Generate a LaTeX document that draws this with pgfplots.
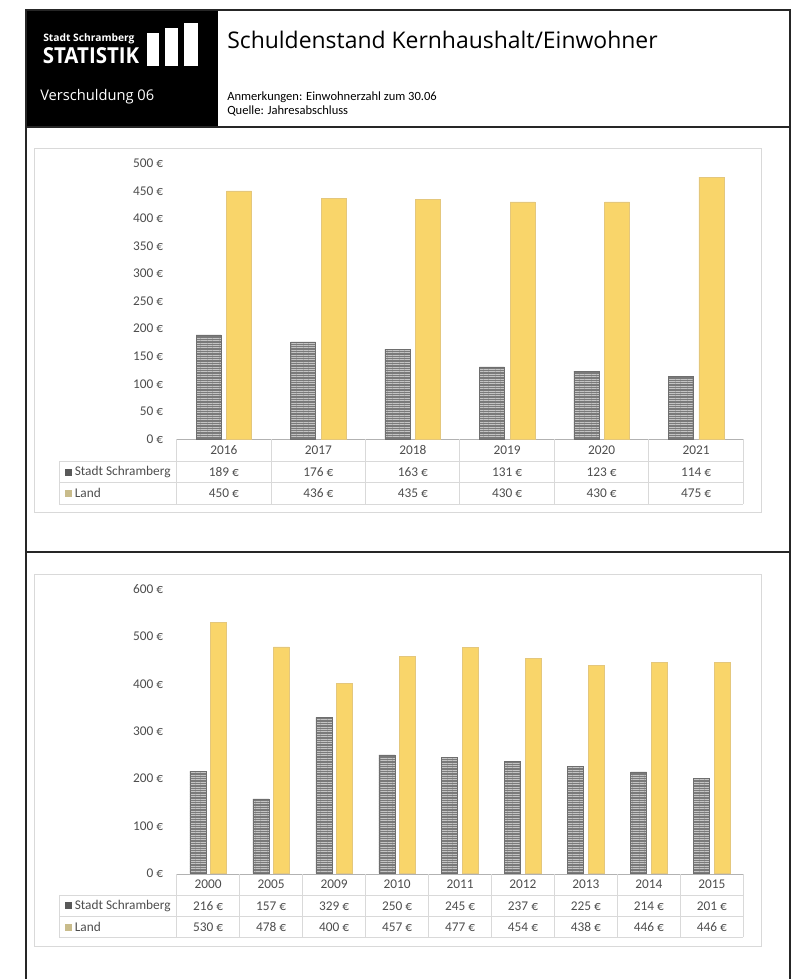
\documentclass[border=0pt]{standalone}
\usepackage{pgfplots}
\pgfplotsset{compat=1.18}
\usepackage{pgfplotstable}
\usepackage{fontspec}
\setmainfont{Carlito}
\newfontfamily\headfont{Open Sans}
\usetikzlibrary{patterns.meta}

\definecolor{stadt}{HTML}{7A7A7A}
\definecolor{stadtline}{HTML}{C4C4C4}
\definecolor{land}{HTML}{F9D56A}
\definecolor{landedge}{HTML}{E4C77C}
\definecolor{gridgray}{HTML}{D9D9D9}
\definecolor{txt}{HTML}{4D4D4D}
\definecolor{keystadt}{HTML}{595959}
\definecolor{keyland}{HTML}{C9BC8B}

% Werte 2016-2021
\pgfplotstableread{
x year stadt land
0 2016 189 450
1 2017 176 436
2 2018 163 435
3 2019 131 430
4 2020 123 430
5 2021 114 475
}\tabneu

% Werte 2000-2015
\pgfplotstableread{
x year stadt land
0 2000 216 530
1 2005 157 478
2 2009 329 400
3 2010 250 457
4 2011 245 477
5 2012 237 454
6 2013 225 438
7 2014 214 446
8 2015 201 446
}\tabalt

\pgfplotsset{
  excelbars/.style={
    ybar, scale only axis, width=425pt, xmin=-0.5, ymin=0,
    axis line style={draw=none}, major tick length=0pt,
    xtick=\empty,
    yticklabel={\pgfmathprintnumber{\tick}~€},
    /pgf/number format/assume math mode=true,
    yticklabel style={font=\fontsize{10}{12}\selectfont, text=txt,
      anchor=east, inner sep=0pt, xshift=-10pt},
    clip=false,
  },
  stadtbar/.style={fill=stadt, draw=stadt!90!black, line width=0.4pt,
    postaction={pattern={Lines[angle=0,distance=1.8pt,line width=0.6pt]},
      pattern color=stadtline}},
  landbar/.style={fill=land, draw=landedge, line width=0.5pt},
}

\begin{document}
\begin{tikzpicture}
\begin{scope}[x=0.75pt,y=-0.75pt]
  \path[use as bounding box] (0,0) rectangle (801,979);
  % Kopf
  \fill[black] (26,10) rectangle (218,127);
  \fill[white] (146.5,33) rectangle (158.5,66);
  \fill[white] (165,28) rectangle (178,66);
  \fill[white] (184,22.5) rectangle (198,66);
  \node[anchor=west, text=white, inner sep=0pt, font=\headfont\bfseries\fontsize{7.7}{9}\selectfont] at (43,38.5) {Stadt Schramberg};
  \node[anchor=west, text=white, inner sep=0pt, font=\headfont\bfseries\fontsize{16.5}{18}\selectfont] at (42.5,56) {\scalebox{0.93}[1]{STATISTIK}};
  \node[anchor=west, text=white, inner sep=0pt, font=\headfont\fontsize{11}{13}\selectfont] at (40,97) {Verschuldung 06};
  \node[anchor=west, inner sep=0pt, font=\headfont\fontsize{17.2}{19}\selectfont] at (227,40) {Schuldenstand Kernhaushalt/Einwohner};
  \node[anchor=west, inner sep=0pt, font=\fontsize{9.4}{10}\selectfont] at (227,97) {Anmerkungen: Einwohnerzahl zum 30.06};
  \node[anchor=west, inner sep=0pt, font=\fontsize{9.4}{10}\selectfont] at (227,111) {Quelle: Jahresabschluss};
  \draw[line width=1.1pt, black!85] (26,979) -- (26,10) -- (790,10) -- (790,979);
  \draw[line width=1.1pt, black!85] (26,127) -- (790,127);
  \draw[line width=1.1pt, black!85] (26,552) -- (790,552);
  % Rahmen der Diagramme
  \draw[gridgray, line width=0.75pt] (34,148) rectangle (761,512);
  \draw[gridgray, line width=0.75pt] (34,574) rectangle (761,946);

  % Datentabelle 1
  \begin{scope}[gridgray, line width=0.75pt]
    \draw[black!30] (176.7,439) -- (743.3,439);
    \foreach \k in {0,...,6} \draw ({176.7+\k*94.43},439) -- ({176.7+\k*94.43},504);
    \draw (59.3,461) -- (743.3,461);
    \draw (59.3,482.5) -- (743.3,482.5);
    \draw (59.3,504) -- (743.3,504);
    \draw (59.3,461) -- (59.3,504);
  \end{scope}
  \foreach \yr/\a/\b [count=\i from 0] in {2016/189/450,2017/176/436,2018/163/435,2019/131/430,2020/123/430,2021/114/475}{
    \node[text=txt, font=\fontsize{10}{12}\selectfont] at ({176.7+(\i+0.5)*94.43},450) {\yr};
    \node[text=txt, font=\fontsize{10}{12}\selectfont] at ({176.7+(\i+0.5)*94.43},471.75) {\a~€};
    \node[text=txt, font=\fontsize{10}{12}\selectfont] at ({176.7+(\i+0.5)*94.43},493.25) {\b~€};
  }
  \fill[keystadt] (65,468.5) rectangle (72,475.5);
  \fill[keyland] (65,490) rectangle (72,497);
  \node[anchor=west, inner sep=0pt, text=txt, font=\fontsize{10}{12}\selectfont] at (74.5,471.75) {Stadt Schramberg};
  \node[anchor=west, inner sep=0pt, text=txt, font=\fontsize{10}{12}\selectfont] at (74.5,493.25) {Land};

  % Datentabelle 2
  \begin{scope}[gridgray, line width=0.75pt]
    \draw[black!30] (176.7,874.3) -- (743.3,874.3);
    \foreach \k in {0,...,9} \draw ({176.7+\k*62.96},874.3) -- ({176.7+\k*62.96},937.3);
    \draw (59.3,895) -- (743.3,895);
    \draw (59.3,916.7) -- (743.3,916.7);
    \draw (59.3,937.3) -- (743.3,937.3);
    \draw (59.3,895) -- (59.3,937.3);
  \end{scope}
  \foreach \yr/\a/\b [count=\i from 0] in {2000/216/530,2005/157/478,2009/329/400,2010/250/457,2011/245/477,2012/237/454,2013/225/438,2014/214/446,2015/201/446}{
    \node[text=txt, font=\fontsize{10}{12}\selectfont] at ({176.7+(\i+0.5)*62.96},884.6) {\yr};
    \node[text=txt, font=\fontsize{10}{12}\selectfont] at ({176.7+(\i+0.5)*62.96},905.8) {\a~€};
    \node[text=txt, font=\fontsize{10}{12}\selectfont] at ({176.7+(\i+0.5)*62.96},927) {\b~€};
  }
  \fill[keystadt] (65,902.3) rectangle (72,909.3);
  \fill[keyland] (65,923.5) rectangle (72,930.5);
  \node[anchor=west, inner sep=0pt, text=txt, font=\fontsize{10}{12}\selectfont] at (74.5,905.8) {Stadt Schramberg};
  \node[anchor=west, inner sep=0pt, text=txt, font=\fontsize{10}{12}\selectfont] at (74.5,927) {Land};
\end{scope}

% Diagramm 2016-2021
\begin{axis}[excelbars, at={(132.5pt,-329.25pt)}, anchor=south west,
  height=206.8pt, xmax=5.5, ymax=500, ytick distance=50]
  \addplot[stadtbar, bar width=18.75pt, bar shift=-11.5pt] table[x=x, y=stadt]{\tabneu};
  \addplot[landbar, bar width=18.75pt, bar shift=11.5pt] table[x=x, y=land]{\tabneu};
\end{axis}

% Diagramm 2000-2015
\begin{axis}[excelbars, at={(132.5pt,-655pt)}, anchor=south west,
  height=213.2pt, xmax=8.5, ymax=600, ytick distance=100]
  \addplot[stadtbar, bar width=12pt, bar shift=-7.7pt] table[x=x, y=stadt]{\tabalt};
  \addplot[landbar, bar width=12pt, bar shift=7.7pt] table[x=x, y=land]{\tabalt};
\end{axis}
\end{tikzpicture}
\end{document}
